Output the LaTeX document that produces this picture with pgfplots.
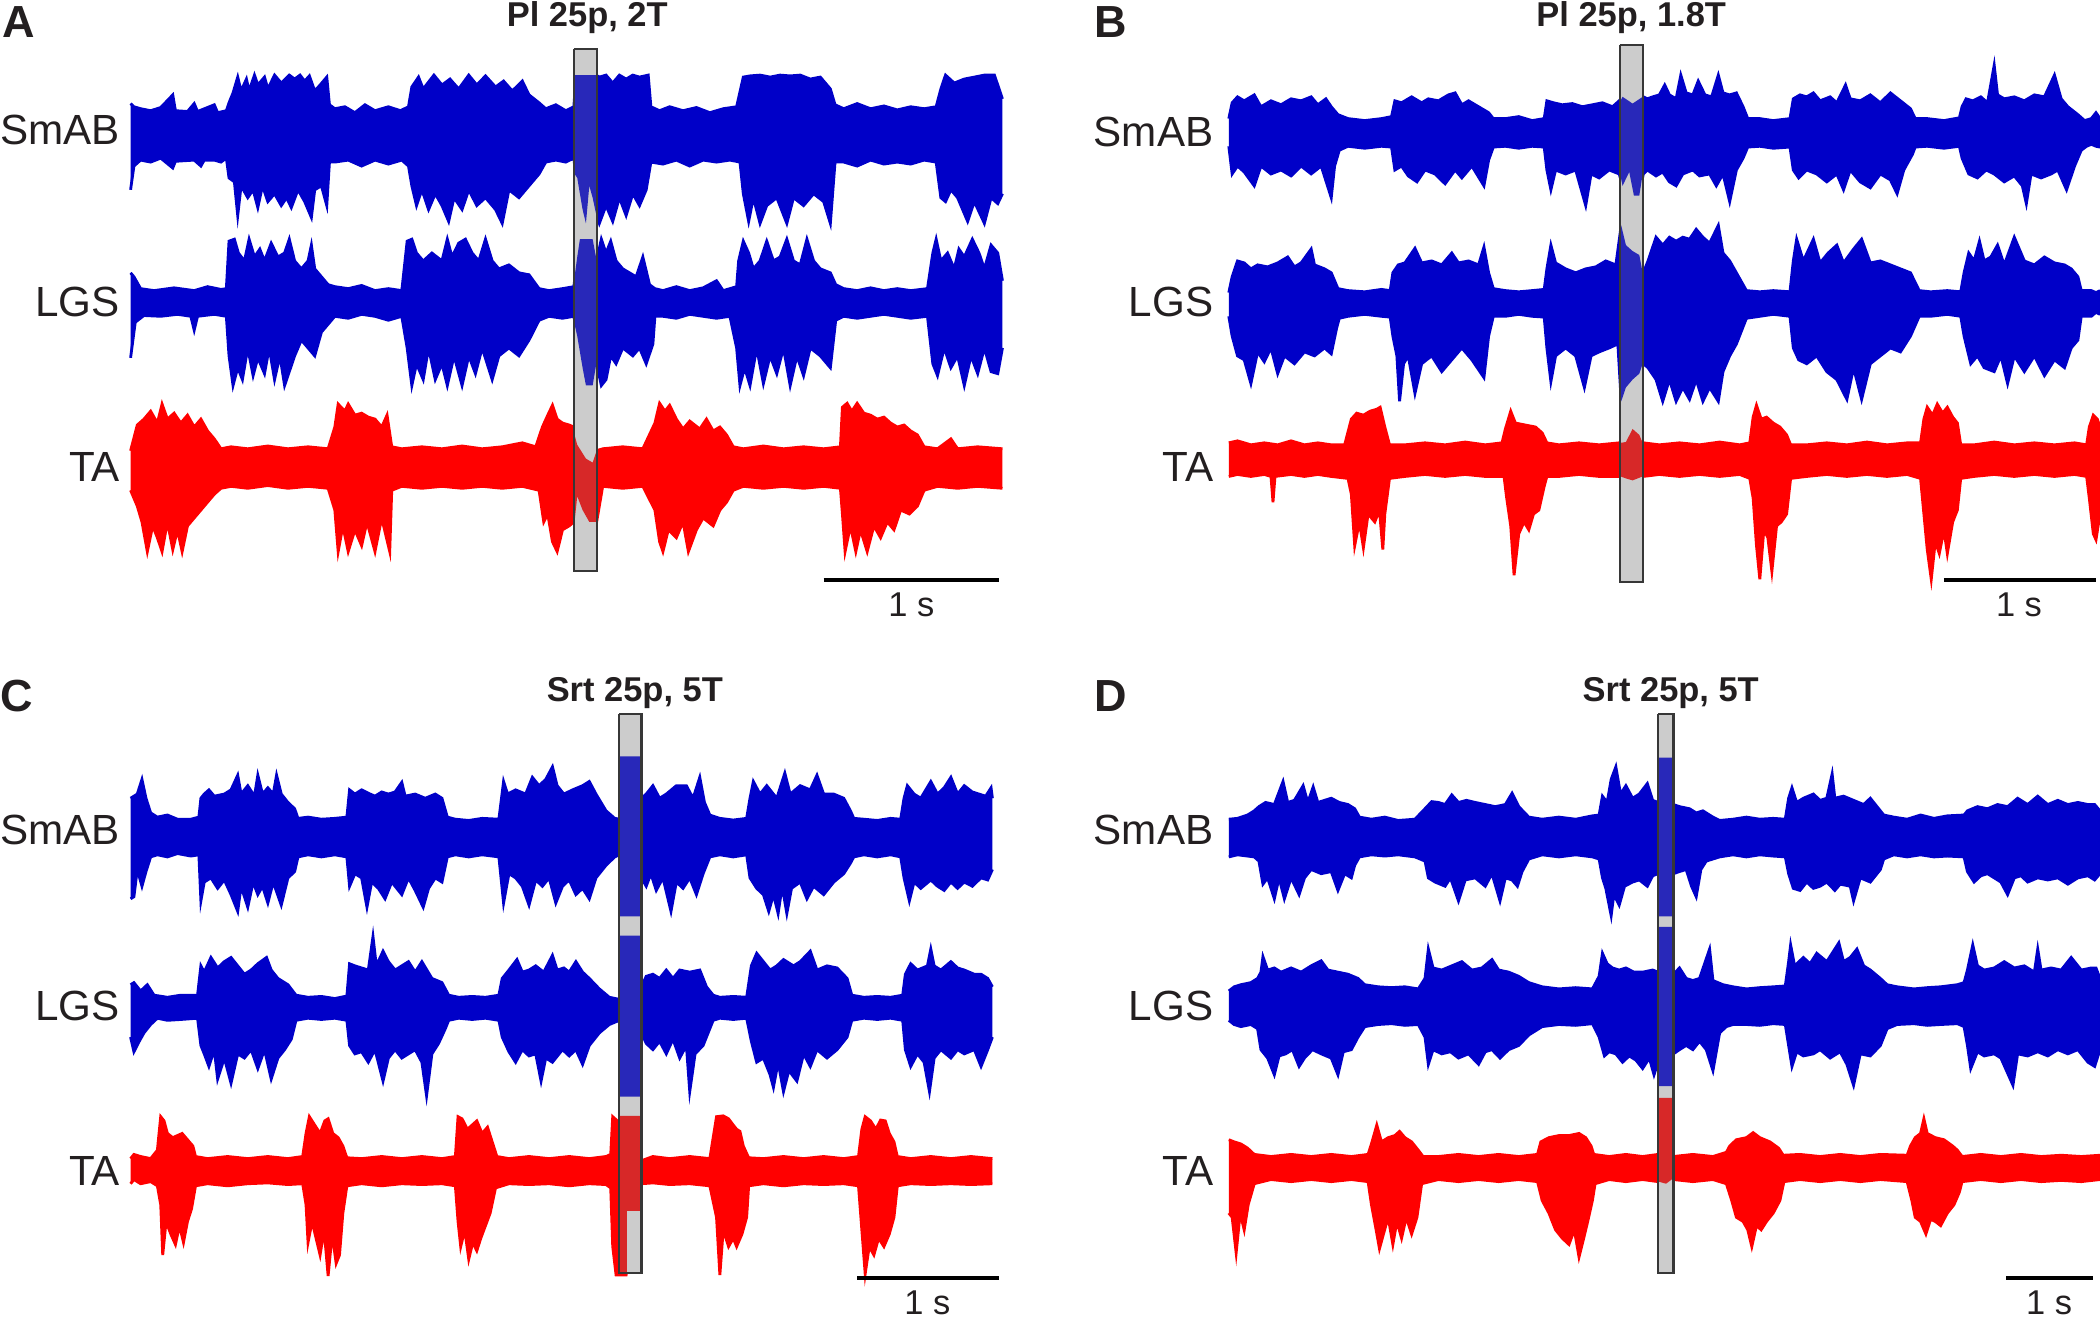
\documentclass[border=0pt]{standalone}
\usepackage{fontspec}
\setmainfont{Liberation Sans}
\usepackage{pgfplots}
\pgfplotsset{compat=1.18}
\usepgfplotslibrary{fillbetween}
\definecolor{emgblue}{RGB}{0,0,200}
\definecolor{emgred}{RGB}{255,0,0}
\definecolor{boxgray}{RGB}{204,204,204}
\definecolor{boxedge}{RGB}{55,55,55}
\definecolor{inblue}{RGB}{40,40,185}
\definecolor{inred}{RGB}{215,40,40}
\definecolor{txt}{RGB}{35,31,32}
% one EMG trace = upper and lower envelope, filled between
\newcommand{\emgtrace}[4]{%
  \addplot[name path=#1u, draw=#2, line width=0.8pt] coordinates {#3};
  \addplot[name path=#1l, draw=#2, line width=0.8pt] coordinates {#4};
  \addplot[fill=#2, draw=none] fill between[of=#1u and #1l];
}
\newcommand{\emglab}[2]{\node[anchor=east, inner sep=0pt, text=txt, font=\fontsize{12pt}{14pt}\selectfont] at (#1) {#2};}
\newcommand{\emgttl}[2]{\node[anchor=base, inner sep=0pt, text=txt, font=\fontsize{9.8pt}{11pt}\selectfont\bfseries] at (#1) {#2};}
\newcommand{\emgpnl}[2]{\node[anchor=base west, inner sep=0pt, text=txt, font=\fontsize{12.8pt}{14pt}\selectfont\bfseries] at (#1) {#2};}
\newcommand{\onesec}[1]{\node[anchor=base, inner sep=0pt, text=txt, font=\fontsize{9.8pt}{11pt}\selectfont] at (#1) {1 s};}
\pgfplotsset{panel/.style={scale only axis, hide axis, clip=false, width=105mm,
  xmin=0, xmax=1568, ymin=0, ymax=1568, y dir=reverse, anchor=north west}}
\begin{document}
\begin{tikzpicture}
% ---------------- A ----------------
\begin{axis}[panel, height=62mm, at={(0mm,131.7mm)}]
\emgtrace{as}{emgblue}{(195,262)(200,270)(210,275)(225,280)(240,272)(258,240)(262,280)(280,282)(290,262)(295,282)(320,265)(325,285)(338,280)
(342,260)(348,235)(355,195)(360,230)(368,200)(372,230)(380,190)(385,215)(395,195)(400,225)(410,190)(420,210)(432,190)(440,200)(448,190)(455,205)(462,192)(470,230)(478,215)(488,195)(492,265)
(500,275)(515,270)(530,285)(545,265)(560,280)(580,270)(598,280)(610,270)
(615,220)(625,195)(632,225)(648,190)(660,215)(672,200)(685,225)(700,190)(712,215)(725,192)(740,220)(752,205)(765,230)(780,205)(790,240)(805,260)
(815,275)(830,265)(845,280)(857,270)(860,190)(890,190)
(895,195)(905,190)(915,210)(925,190)(935,200)(945,190)(955,195)(968,190)(972,270)
(985,280)(1000,270)(1020,280)(1040,272)(1060,285)(1080,275)(1100,270)
(1110,195)(1120,192)(1135,190)(1150,195)(1165,190)(1180,192)(1195,190)(1210,200)(1225,195)(1240,225)(1247,265)
(1260,275)(1280,262)(1300,275)(1320,268)(1340,278)(1360,270)(1380,275)(1398,270)
(1405,225)(1412,190)(1425,210)(1440,200)(1455,195)(1470,190)(1485,190)(1495,240)(1497,250)}
{(195,480)(200,420)(210,405)(225,410)(240,400)(258,425)(262,408)(290,405)(300,420)(305,405)(320,405)(330,410)(338,400)
(342,450)(350,460)(355,545)(360,470)(370,500)(378,480)(385,525)(392,470)(400,510)(410,490)(420,520)(428,500)(435,525)(445,480)(455,510)(465,550)(470,480)(480,470)(488,520)(492,410)
(500,410)(520,405)(540,420)(560,405)(580,415)(600,405)(610,420)
(615,470)(622,520)(630,480)(640,530)(650,490)(660,520)(670,560)(678,500)(690,530)(700,480)(712,520)(725,500)(740,530)(750,565)(760,480)(775,500)(790,470)(805,440)
(815,410)(830,405)(845,410)(857,400)(860,450)(870,530)(875,565)(880,470)(890,540)
(895,565)(905,520)(915,560)(925,500)(935,545)(945,490)(955,520)(965,480)(972,410)
(990,415)(1010,405)(1030,420)(1050,405)(1070,410)(1090,405)(1105,410)
(1110,490)(1118,560)(1125,500)(1135,565)(1145,520)(1160,500)(1175,565)(1185,500)(1200,520)(1215,490)(1230,510)(1240,565)(1247,410)
(1260,410)(1280,420)(1300,405)(1320,415)(1340,410)(1360,415)(1380,405)(1398,410)
(1405,500)(1412,510)(1420,480)(1430,500)(1445,560)(1455,510)(1470,565)(1480,500)(1490,515)(1497,490)}
\emgtrace{al}{emgblue}{(195,690)(200,700)(210,730)(230,735)(260,728)(290,735)(310,725)(330,732)(338,730)
(342,610)(350,605)(356,640)(365,660)(372,605)(380,650)(388,630)(395,660)(405,615)(415,650)(425,640)(432,605)(440,660)(450,680)(460,660)(465,620)(470,680)(480,700)(490,720)
(500,725)(520,730)(540,722)(560,735)(580,730)(600,735)
(608,610)(615,605)(622,640)(632,660)(645,640)(660,660)(668,605)(675,650)(685,615)(695,605)(705,640)(715,660)(725,605)(735,660)(745,680)(760,670)(775,690)(790,695)(805,730)
(820,735)(840,730)(857,725)(862,650)(872,605)(885,605)(891,660)
(898,605)(905,640)(912,610)(920,660)(930,680)(940,690)(950,700)(960,650)(970,720)(978,730)
(990,735)(1010,725)(1030,735)(1050,728)(1070,710)(1080,735)(1100,725)
(1103,660)(1110,610)(1118,640)(1125,680)(1135,660)(1145,610)(1155,660)(1165,650)(1175,605)(1185,660)(1195,670)(1205,605)(1215,660)(1225,680)(1240,690)(1248,720)
(1260,730)(1280,735)(1300,728)(1320,735)(1340,730)(1360,735)(1385,730)
(1393,640)(1398,605)(1405,660)(1415,640)(1425,680)(1432,630)(1440,650)(1452,605)(1462,640)(1470,680)(1480,620)(1490,640)(1497,710)}
{(195,905)(202,815)(215,798)(240,800)(265,795)(285,800)(290,835)(295,800)(320,795)(338,800)
(342,900)(348,975)(355,930)(362,960)(370,880)(378,950)(385,905)(395,945)(402,880)(410,960)(418,900)(425,975)(432,940)(440,900)(450,860)(460,880)(470,900)(480,840)(490,820)
(500,800)(520,805)(540,795)(560,800)(580,810)(600,800)
(608,880)(615,975)(622,920)(632,960)(640,880)(650,960)(660,920)(668,975)(678,900)(690,975)(700,900)(710,945)(720,880)(735,960)(745,900)(760,880)(775,900)(790,860)(805,810)
(820,800)(840,805)(857,800)(862,850)(870,930)(875,975)(885,975)(891,920)
(898,975)(905,960)(912,900)(920,920)(930,880)(945,900)(955,880)(965,920)(975,870)(978,800)
(990,800)(1010,805)(1030,795)(1050,800)(1070,805)(1090,800)
(1100,880)(1105,975)(1112,930)(1120,975)(1130,880)(1140,970)(1150,900)(1160,945)(1170,880)(1180,975)(1190,900)(1200,950)(1210,880)(1225,900)(1240,930)(1248,810)
(1260,800)(1280,805)(1300,800)(1320,795)(1340,800)(1360,805)(1385,800)
(1393,920)(1400,950)(1410,880)(1420,930)(1430,900)(1440,975)(1450,900)(1460,945)(1470,880)(1480,940)(1490,945)(1497,880)}
\emgtrace{at}{emgred}{(195,1140)(205,1075)(215,1060)(225,1040)(235,1070)(242,1022)(250,1060)(260,1045)(270,1070)(280,1050)(290,1080)(300,1060)(310,1090)(320,1110)(330,1135)
(345,1130)(370,1135)(400,1128)(430,1135)(460,1130)(490,1135)
(500,1080)(505,1022)(515,1040)(520,1022)(530,1050)(540,1045)(550,1055)(560,1060)(570,1080)(578,1050)(585,1130)
(600,1135)(630,1130)(660,1135)(690,1128)(720,1135)(750,1130)(780,1120)(800,1130)
(810,1080)(818,1050)(825,1025)(832,1060)(840,1070)(850,1075)(857,1080)(860,1120)(875,1160)(885,1170)(891,1140)
(900,1135)(930,1130)(960,1135)
(978,1070)(985,1020)(993,1040)(1000,1025)(1010,1060)(1020,1085)(1030,1065)(1045,1085)(1055,1060)(1065,1090)(1075,1080)(1085,1100)(1095,1130)
(1110,1135)(1140,1128)(1170,1135)(1200,1130)(1230,1135)(1255,1130)
(1258,1030)(1265,1020)(1272,1040)(1280,1020)(1290,1045)(1300,1050)(1310,1060)(1320,1055)(1330,1070)(1340,1080)(1350,1075)(1360,1090)(1370,1100)(1380,1130)
(1400,1135)(1420,1110)(1430,1135)(1460,1130)(1497,1135)}
{(195,1240)(205,1280)(212,1320)(220,1395)(228,1330)(235,1360)(242,1395)(250,1320)(258,1390)(265,1340)(272,1395)(280,1330)(290,1310)(300,1290)(310,1270)(320,1250)(330,1235)
(345,1230)(370,1235)(400,1228)(430,1235)(460,1230)(490,1235)
(500,1290)(505,1395)(512,1330)(520,1395)(530,1340)(540,1380)(548,1320)(560,1395)(570,1310)(582,1395)(585,1240)
(600,1230)(630,1235)(660,1230)(690,1235)(720,1230)(750,1235)(780,1230)(805,1240)
(812,1320)(818,1300)(825,1370)(832,1395)(840,1340)(850,1330)(857,1320)(862,1250)(870,1290)(880,1320)(891,1320)
(900,1230)(930,1235)(960,1230)
(978,1290)(985,1370)(990,1395)(998,1340)(1010,1360)(1020,1320)(1028,1395)(1040,1340)(1050,1310)(1065,1330)(1075,1290)(1085,1270)(1095,1240)
(1110,1230)(1140,1235)(1170,1230)(1200,1235)(1230,1230)(1255,1235)
(1258,1300)(1262,1395)(1270,1330)(1278,1395)(1285,1340)(1295,1395)(1305,1330)(1315,1360)(1325,1320)(1335,1340)(1345,1290)(1358,1300)(1370,1280)(1380,1240)
(1400,1230)(1430,1235)(1460,1230)(1497,1235)}
\addplot[fill=boxgray, draw=none] coordinates {(857,125)(891,125)(891,1445)(857,1445)(857,125)};
\addplot[fill=inblue, draw=none] coordinates {(858,190)(890,190)(890,540)(885,500)(880,470)(875,565)(870,530)(862,450)(858,440)(858,190)};
\addplot[fill=inblue, draw=none] coordinates {(858,700)(862,650)(866,605)(885,605)(890,650)(890,925)(885,975)(875,975)(870,930)(862,850)(858,820)(858,700)};
\addplot[fill=inred, draw=none] coordinates {(858,1100)(862,1125)(875,1160)(885,1170)(890,1145)(890,1320)(880,1320)(870,1290)(862,1255)(858,1320)(858,1100)};
\addplot[draw=boxedge, line width=0.6pt] coordinates {(857,125)(891,125)(891,1445)(857,1445)(857,125)};
\addplot[draw=black, line width=0.95pt] coordinates {(1230,1467)(1492,1467)};
\emglab{180,330}{SmAB}\emglab{180,765}{LGS}\emglab{180,1180}{TA}
\emgttl{877,68}{Pl 25p, 2T}\emgpnl{3,94}{A}\onesec{1361,1560}
\end{axis}
% ---------------- B ----------------
\begin{axis}[panel, height=62mm, at={(105mm,131.7mm)}]
\emgtrace{bs}{emgblue}{(267,300)(272,260)(280,245)(290,255)(305,240)(315,270)(330,255)(345,265)(360,250)(375,255)(390,245)(400,265)(412,250)(420,270)(430,290)
(445,300)(470,305)(495,300)(510,295)
(515,255)(525,260)(540,245)(555,260)(565,250)(580,255)(595,240)(605,235)(615,265)(625,255)(640,270)(655,285)(662,300)
(680,300)(700,295)(720,305)(738,300)
(742,255)(752,260)(765,265)(780,262)(795,270)(810,265)(825,260)(840,270)(850,255)(855,245)(870,262)(886,245)
(892,250)(900,245)(910,240)(918,215)(925,240)(935,250)(942,190)(950,235)(960,240)(968,205)(978,240)(988,245)(998,190)(1005,235)(1015,240)(1025,235)(1035,270)(1042,300)
(1060,300)(1080,305)(1105,300)
(1110,250)(1120,240)(1130,245)(1140,235)(1150,255)(1165,245)(1175,260)(1188,215)(1195,250)(1210,255)(1225,240)(1240,260)(1255,235)(1270,255)(1285,275)(1292,300)
(1310,300)(1335,305)(1358,298)
(1362,270)(1368,250)(1378,255)(1390,245)(1400,260)(1410,165)(1415,240)(1425,250)(1440,245)(1455,255)(1470,240)(1485,245)(1500,190)(1510,250)(1520,270)(1535,290)(1545,305)
(1555,300)(1562,285)(1568,300)}
{(267,370)(272,440)(280,420)(290,435)(305,470)(315,420)(330,440)(345,430)(360,445)(375,420)(390,440)(405,420)(420,500)(425,420)(432,380)
(445,370)(470,375)(495,370)(510,372)
(515,430)(525,420)(535,445)(548,460)(560,430)(575,440)(590,465)(605,430)(615,450)(630,420)(648,470)(655,405)(662,372)
(680,370)(700,375)(720,370)(738,372)
(742,430)(748,480)(755,430)(770,440)(785,430)(800,520)(808,440)(820,450)(835,430)(850,440)(855,470)(865,435)(872,495)(880,495)(886,440)
(892,430)(905,445)(915,435)(925,460)(935,470)(945,440)(960,430)(970,445)(985,440)(995,470)(1005,440)(1015,510)(1025,430)(1035,400)(1042,372)
(1060,370)(1080,375)(1105,372)
(1110,430)(1118,450)(1130,430)(1145,440)(1160,460)(1175,440)(1185,480)(1195,430)(1210,460)(1225,475)(1240,440)(1255,455)(1265,490)(1275,430)(1288,390)(1292,372)
(1310,370)(1335,375)(1358,370)
(1362,400)(1372,440)(1385,450)(1398,430)(1410,440)(1425,460)(1440,445)(1452,470)(1458,515)(1465,440)(1480,450)(1495,440)(1505,430)(1518,480)(1530,420)(1540,380)(1548,370)
(1555,365)(1562,370)(1568,372)}
\emgtrace{bl}{emgblue}{(267,740)(272,700)(280,660)(290,665)(300,680)(310,670)(325,675)(340,665)(355,650)(365,675)(375,665)(390,630)(395,670)(410,680)(420,690)(430,730)
(445,735)(470,738)(495,732)(508,735)
(512,690)(520,670)(530,665)(545,628)(555,665)(570,660)(585,670)(600,640)(610,665)(625,660)(640,670)(648,625)(655,690)(662,730)
(680,735)(700,738)(720,735)(738,732)
(742,680)(748,620)(755,665)(770,680)(785,690)(800,680)(815,675)(830,660)(845,670)(853,570)(860,620)(870,635)(880,645)(886,690)
(893,660)(905,600)(915,620)(925,600)(935,610)(945,600)(955,605)(965,580)(975,600)(985,615)(998,570)(1005,640)(1015,660)(1025,690)(1040,735)
(1060,738)(1080,735)(1105,738)
(1110,660)(1115,605)(1125,660)(1140,605)(1150,665)(1162,640)(1175,620)(1185,665)(1200,630)(1212,605)(1225,665)(1240,660)(1255,670)(1270,680)(1285,690)(1298,735)
(1315,738)(1340,735)(1360,738)
(1365,690)(1372,640)(1380,660)(1388,610)(1395,660)(1405,650)(1415,620)(1425,670)(1440,600)(1455,660)(1470,670)(1485,650)(1500,665)(1515,670)(1525,680)(1535,700)(1540,735)
(1555,735)(1562,740)(1568,735)}
{(267,800)(272,850)(280,900)(290,910)(300,970)(310,890)(320,915)(330,880)(340,945)(350,900)(365,920)(380,890)(395,900)(410,880)(420,895)(428,830)(432,805)
(445,800)(470,795)(495,800)(508,802)
(512,850)(518,900)(522,1015)(528,920)(535,900)(545,995)(555,920)(570,900)(585,940)(600,910)(615,880)(630,910)(648,955)(655,850)(662,800)
(680,800)(700,795)(720,800)(738,802)
(742,880)(748,965)(755,900)(770,880)(785,900)(798,980)(808,900)(820,890)(835,880)(848,870)(853,1015)(860,980)(870,960)(880,945)(886,920)
(893,930)(905,960)(915,1015)(925,960)(935,1015)(945,980)(955,1010)(965,960)(975,1015)(985,980)(998,1015)(1005,940)(1015,900)(1025,870)(1040,805)
(1060,800)(1080,795)(1105,800)
(1110,880)(1118,910)(1130,920)(1145,900)(1160,940)(1175,960)(1190,1010)(1200,930)(1212,1010)(1225,920)(1240,900)(1255,880)(1270,890)(1285,850)(1298,800)
(1315,800)(1340,795)(1360,800)
(1365,850)(1375,920)(1385,900)(1395,930)(1410,940)(1420,900)(1430,970)(1440,900)(1455,940)(1470,900)(1485,950)(1500,910)(1515,930)(1525,880)(1535,860)(1540,800)
(1555,800)(1562,790)(1568,795)}
\emgtrace{bt}{emgred}{(267,1120)(280,1115)(300,1125)(320,1120)(340,1125)(360,1115)(380,1125)(400,1120)(420,1125)(440,1125)
(450,1060)(458,1045)(468,1050)(478,1040)(488,1035)(493,1030)(500,1080)(507,1125)
(530,1125)(560,1120)(590,1125)(620,1118)(650,1125)(675,1120)
(680,1085)(688,1040)(695,1070)(710,1075)(725,1080)(735,1095)(742,1120)
(760,1125)(790,1120)(820,1125)(850,1120)(860,1118)(870,1085)(880,1100)(886,1120)
(910,1125)(940,1120)(970,1125)(1000,1118)(1030,1125)(1045,1120)
(1050,1055)(1055,1025)(1062,1060)(1070,1055)(1080,1070)(1090,1080)(1100,1100)(1106,1125)
(1130,1125)(1160,1120)(1190,1125)(1220,1118)(1250,1125)(1280,1120)(1300,1120)
(1305,1060)(1310,1030)(1318,1050)(1325,1022)(1333,1045)(1340,1030)(1348,1055)(1355,1070)(1360,1125)
(1380,1125)(1410,1118)(1440,1125)(1470,1120)(1500,1125)(1530,1120)(1548,1125)
(1552,1080)(1558,1050)(1564,1060)(1568,1080)}
{(267,1205)(280,1200)(300,1205)(320,1200)(330,1205)(333,1270)(336,1205)(360,1200)(380,1205)(400,1200)(420,1205)(445,1210)
(450,1250)(455,1380)(462,1320)(468,1385)(475,1300)(485,1320)(492,1290)(497,1390)(500,1300)(507,1210)
(530,1205)(560,1200)(590,1205)(620,1200)(650,1205)(678,1205)
(682,1260)(688,1330)(693,1455)(700,1350)(708,1320)(715,1340)(722,1300)(730,1290)(738,1230)(742,1205)
(760,1205)(790,1200)(820,1205)(850,1205)(860,1210)(870,1215)(886,1205)
(910,1200)(940,1205)(970,1200)(1000,1205)(1030,1200)(1045,1210)
(1050,1260)(1055,1380)(1060,1465)(1066,1340)(1072,1360)(1078,1445)(1085,1330)(1092,1320)(1100,1300)(1106,1210)
(1130,1205)(1160,1200)(1190,1205)(1220,1200)(1250,1205)(1280,1200)(1300,1210)
(1305,1300)(1310,1390)(1316,1465)(1322,1370)(1328,1400)(1335,1340)(1340,1400)(1348,1320)(1355,1290)(1360,1210)
(1380,1205)(1410,1200)(1440,1205)(1470,1200)(1500,1205)(1530,1200)(1548,1205)
(1552,1260)(1558,1350)(1562,1365)(1568,1300)}
\addplot[fill=boxgray, draw=none] coordinates {(851,115)(886,115)(886,1472)(851,1472)(851,115)};
\addplot[fill=inblue, draw=none] coordinates {(852,255)(855,245)(870,262)(885,245)(885,440)(880,495)(872,495)(865,435)(855,470)(852,445)(852,255)};
\addplot[fill=inblue, draw=none] coordinates {(852,600)(853,570)(860,620)(870,635)(880,645)(885,690)(885,920)(880,945)(870,960)(860,980)(853,1015)(852,1000)(852,600)};
\addplot[fill=inred, draw=none] coordinates {(852,1120)(860,1118)(870,1085)(880,1100)(885,1120)(885,1205)(870,1215)(860,1210)(852,1205)(852,1120)};
\addplot[draw=boxedge, line width=0.6pt] coordinates {(851,115)(886,115)(886,1472)(851,1472)(851,115)};
\addplot[draw=black, line width=0.95pt] coordinates {(1335,1467)(1562,1467)};
\emglab{245,335}{SmAB}\emglab{245,765}{LGS}\emglab{245,1180}{TA}
\emgttl{868,68}{Pl 25p, 1.8T}\emgpnl{65,94}{B}\onesec{1447,1560}
\end{axis}
% ---------------- C ----------------
\begin{axis}[panel, height=65.7mm, at={(0mm,65.7mm)}]
\emgtrace{cs}{emgblue}{(195,330)(200,325)(205,320)(212,285)(218,330)(225,365)(235,375)(250,370)(265,380)(285,380)(297,375)
(300,330)(305,320)(312,310)(320,325)(335,320)(345,310)(355,275)(360,320)(370,300)(380,325)(385,275)(392,320)(400,305)(408,320)(413,275)(420,320)(430,340)(440,355)(445,378)
(460,375)(480,380)(500,378)(518,375)
(522,310)(530,320)(540,310)(550,318)(560,325)(570,315)(580,320)(590,315)(600,292)(605,325)(620,320)(635,330)(650,320)(660,330)(668,375)
(680,380)(700,383)(720,378)(745,380)
(752,290)(758,320)(770,310)(785,320)(795,280)(805,300)(815,285)(825,255)(832,300)(842,320)(855,310)(870,300)(880,290)(890,320)(905,360)(918,378)(925,380)
(958,330)(965,320)(975,300)(985,330)(995,320)(1010,300)(1025,300)(1035,330)(1045,280)(1052,340)(1060,370)
(1075,378)(1095,382)(1115,378)
(1120,330)(1125,290)(1135,320)(1145,300)(1160,330)(1172,270)(1180,320)(1195,300)(1210,310)(1220,275)(1230,320)(1245,320)(1260,330)(1270,360)(1275,378)
(1290,380)(1310,383)(1330,378)(1345,380)
(1350,330)(1355,300)(1365,320)(1375,330)(1390,290)(1400,320)(1410,305)(1420,280)(1430,320)(1440,300)(1452,315)(1462,320)(1472,325)(1480,305)(1482,330)}
{(195,570)(200,565)(205,500)(212,540)(218,505)(225,470)(235,465)(250,470)(265,462)(285,468)(297,465)
(300,575)(305,530)(315,520)(325,545)(335,525)(345,560)(355,600)(360,540)(370,590)(378,530)(385,560)(392,540)(400,580)(408,530)(420,585)(430,520)(440,505)(445,470)
(460,465)(480,470)(500,465)(518,470)
(522,540)(530,510)(540,520)(548,590)(555,530)(565,545)(575,570)(585,530)(600,560)(610,520)(620,550)(632,590)(640,545)(650,520)(660,530)(668,470)
(680,465)(700,470)(720,465)(745,470)
(752,580)(760,510)(770,520)(780,540)(790,585)(800,525)(810,540)(820,520)(830,580)(840,540)(850,525)(860,560)(870,545)(880,570)(890,520)(905,490)(918,470)(925,465)
(958,520)(965,540)(972,510)(980,550)(990,520)(1002,600)(1010,530)(1020,545)(1030,520)(1040,560)(1050,510)(1060,470)
(1075,465)(1095,470)(1115,465)
(1120,520)(1130,545)(1140,560)(1148,600)(1155,560)(1162,605)(1168,540)(1175,605)(1182,545)(1195,530)(1205,570)(1215,540)(1230,560)(1245,530)(1260,510)(1270,485)(1275,470)
(1290,465)(1310,470)(1330,465)(1345,470)
(1350,520)(1358,575)(1365,530)(1375,545)(1390,525)(1400,540)(1410,550)(1420,530)(1430,545)(1440,530)(1452,540)(1465,520)(1475,525)(1482,500)}
\emgtrace{cl}{emgblue}{(195,775)(200,770)(210,790)(220,775)(230,800)(250,805)(270,800)(295,800)
(300,730)(305,745)(315,710)(325,735)(335,720)(345,710)(355,730)(365,750)(375,740)(385,725)(398,710)(405,740)(415,760)(430,775)(442,800)
(460,805)(480,803)(500,808)(518,802)
(522,725)(530,730)(540,735)(550,740)(557,660)(562,730)(572,695)(580,720)(590,740)(600,730)(610,720)(620,745)(630,720)(645,760)(660,770)(670,800)
(685,805)(705,803)(725,805)(745,800)
(750,760)(760,740)(772,715)(780,745)(790,740)(800,730)(812,745)(825,705)(832,740)(842,735)(850,745)(860,720)(870,745)(880,760)(895,785)(910,805)(925,810)
(958,780)(965,755)(975,750)(985,760)(995,740)(1005,760)(1015,740)(1030,745)(1045,740)(1055,780)(1065,800)
(1075,805)(1095,803)(1115,805)
(1122,730)(1130,700)(1140,720)(1150,740)(1160,730)(1170,715)(1185,730)(1195,720)(1210,695)(1220,740)(1235,730)(1250,735)(1265,760)(1272,800)
(1290,805)(1310,803)(1330,805)(1348,800)
(1352,750)(1360,725)(1370,740)(1385,730)(1390,690)(1395,730)(1405,740)(1420,720)(1430,735)(1440,740)(1455,750)(1465,750)(1475,760)(1482,780)}
{(195,900)(200,935)(208,910)(215,890)(225,870)(235,855)(250,860)(270,858)(295,855)
(300,920)(305,940)(312,970)(320,930)(325,1000)(335,950)(345,1010)(355,940)(365,950)(375,930)(385,975)(395,930)(405,1000)(415,950)(425,930)(435,905)(442,860)
(460,855)(480,858)(500,855)(518,860)
(522,920)(530,940)(540,935)(550,960)(560,930)(572,1005)(580,950)(590,930)(600,950)(610,940)(620,930)(630,960)(637,1040)(645,940)(655,915)(665,880)(670,860)
(685,855)(705,858)(725,855)(745,860)
(750,900)(760,935)(770,960)(780,930)(790,945)(800,940)(808,1005)(815,950)(825,960)(840,930)(850,945)(860,930)(870,965)(880,920)(895,890)(910,870)(925,860)
(958,890)(965,915)(975,930)(985,910)(995,940)(1005,905)(1015,950)(1025,920)(1030,1030)(1038,940)(1050,920)(1060,880)(1065,860)
(1075,855)(1095,858)(1115,855)
(1122,910)(1130,960)(1140,950)(1150,990)(1155,1020)(1162,960)(1170,1030)(1178,980)(1190,1005)(1200,940)(1210,970)(1220,930)(1235,950)(1250,930)(1265,900)(1272,860)
(1290,855)(1310,858)(1330,855)(1348,860)
(1352,930)(1360,970)(1370,940)(1380,960)(1388,1030)(1395,950)(1405,930)(1420,950)(1430,930)(1440,940)(1455,930)(1465,970)(1475,930)(1482,900)}
\emgtrace{ct}{emgred}{(195,1190)(200,1180)(210,1185)(225,1190)(235,1170)
(240,1090)(245,1100)(250,1130)(258,1140)(265,1135)(272,1130)(280,1145)(288,1160)(292,1185)
(310,1190)(340,1185)(370,1190)(400,1185)(430,1190)(452,1185)
(457,1130)(462,1090)(470,1110)(478,1130)(485,1100)(490,1095)(497,1130)(505,1140)(512,1160)(518,1188)
(540,1190)(570,1185)(600,1190)(630,1185)(660,1190)(680,1185)
(684,1090)(690,1095)(698,1120)(705,1110)(712,1100)(720,1130)(728,1115)(735,1150)(742,1185)
(760,1190)(790,1185)(820,1190)(850,1185)(880,1190)(905,1185)(912,1180)
(915,1090)(922,1100)(935,1100)
(958,1195)(975,1185)(1000,1190)(1030,1185)(1060,1190)
(1070,1090)(1080,1088)(1088,1095)(1095,1110)(1100,1120)(1105,1125)(1110,1160)(1118,1188)
(1140,1190)(1170,1185)(1200,1190)(1230,1185)(1260,1190)(1282,1185)
(1287,1120)(1292,1090)(1300,1100)(1308,1120)(1315,1098)(1322,1100)(1328,1130)(1335,1150)(1340,1185)
(1360,1190)(1390,1185)(1420,1190)(1450,1185)(1482,1190)}
{(195,1250)(200,1240)(210,1250)(225,1245)(235,1255)
(240,1300)(243,1420)(248,1340)(255,1370)(262,1395)(268,1350)(274,1390)(280,1340)(286,1310)(292,1255)
(310,1250)(340,1255)(370,1250)(400,1248)(430,1252)(452,1250)
(457,1300)(460,1390)(466,1340)(472,1380)(478,1420)(484,1360)(490,1470)(496,1370)(502,1440)(507,1420)(512,1320)(518,1255)
(540,1250)(570,1255)(600,1250)(630,1252)(660,1250)(680,1255)
(684,1340)(688,1400)(694,1360)(700,1430)(706,1390)(712,1410)(718,1380)(725,1350)(732,1320)(740,1260)
(760,1250)(790,1252)(820,1250)(850,1255)(880,1250)(905,1252)(912,1260)
(915,1400)(920,1468)(935,1468)
(958,1250)(975,1248)(1000,1252)(1030,1250)(1060,1255)
(1070,1330)(1075,1468)(1080,1360)(1088,1400)(1095,1380)(1100,1400)(1108,1370)(1115,1330)(1118,1255)
(1140,1250)(1170,1255)(1200,1250)(1230,1252)(1260,1250)(1282,1255)
(1287,1360)(1292,1465)(1298,1400)(1305,1420)(1312,1380)(1320,1400)(1328,1370)(1335,1330)(1340,1255)
(1360,1250)(1390,1252)(1420,1250)(1450,1252)(1482,1250)}
\addplot[fill=boxgray, draw=none] coordinates {(925,128)(958,128)(958,1462)(925,1462)(925,128)};
\addplot[fill=inblue, draw=none] coordinates {(926,230)(957,230)(957,612)(926,612)(926,230)};
\addplot[fill=inblue, draw=none] coordinates {(926,658)(957,658)(957,1042)(926,1042)(926,658)};
\addplot[fill=inred, draw=none] coordinates {(926,1088)(957,1088)(957,1315)(926,1315)(926,1088)};
\addplot[fill=inred, draw=none] coordinates {(926,1090)(936,1090)(936,1466)(926,1466)(926,1090)};
\addplot[draw=boxedge, line width=0.6pt] coordinates {(925,128)(958,128)(958,1462)(925,1462)(925,128)};
\addplot[draw=black, line width=0.95pt] coordinates {(1280,1475)(1492,1475)};
\emglab{180,405}{SmAB}\emglab{180,825}{LGS}\emglab{180,1220}{TA}
\emgttl{948,100}{Srt 25p, 5T}\emgpnl{0,123}{C}\onesec{1385,1562}
\end{axis}
% ---------------- D ----------------
\begin{axis}[panel, height=65.7mm, at={(105mm,65.7mm)}]
\emgtrace{ds}{emgblue}{(267,380)(280,378)(295,370)(305,360)
(312,350)(322,340)(335,345)(348,290)(355,340)(365,335)(378,300)(385,340)(393,303)(400,340)(410,335)(420,330)(432,340)(445,345)(455,355)(462,375)
(480,380)(500,375)(520,383)(545,380)
(560,355)(570,338)(580,340)(590,345)(600,322)(610,340)(622,335)(635,340)(650,345)(665,350)(680,345)(690,318)(700,350)(715,375)
(735,380)(760,375)(785,380)(810,372)(820,370)
(825,325)(832,340)(838,285)(845,255)(852,320)(860,300)(870,330)(880,320)(892,295)(900,335)(908,340)
(931,345)(940,350)(955,355)(965,365)(975,360)(990,375)(1000,383)
(1020,380)(1040,375)(1060,380)(1080,378)(1098,380)
(1103,330)(1108,305)(1115,340)(1125,330)(1140,320)(1150,335)(1160,330)(1168,272)(1172,330)(1185,325)(1200,335)(1215,345)(1225,330)(1235,350)(1245,370)
(1260,375)(1280,380)(1300,370)(1320,378)(1340,372)(1365,370)
(1370,360)(1385,350)(1400,355)(1415,345)(1430,350)(1445,330)(1460,345)(1475,325)(1490,345)(1505,335)(1520,345)(1535,340)(1550,345)(1560,345)(1568,360)}
{(267,470)(280,465)(295,468)(305,470)
(312,480)(318,535)(325,520)(335,570)(342,520)(350,570)(360,520)(372,560)(380,520)(390,500)(405,510)(420,505)(430,550)(440,510)(450,520)(455,490)(462,470)
(480,465)(500,468)(520,465)(545,470)
(560,480)(565,520)(575,530)(590,540)(598,520)(610,575)(620,525)(635,520)(650,540)(660,510)(672,575)(680,520)(690,525)(698,540)(705,505)(715,475)
(735,465)(760,470)(785,465)(810,470)(820,475)
(825,520)(830,545)(838,610)(842,560)(850,585)(858,540)(870,530)(880,525)(892,540)(900,515)(908,510)
(931,510)(940,505)(950,500)(958,540)(965,565)(972,500)(980,480)(990,475)(1000,470)
(1020,465)(1040,470)(1060,465)(1080,468)(1098,470)
(1103,510)(1110,545)(1120,550)(1130,530)(1140,545)(1150,540)(1160,530)(1172,550)(1180,535)(1195,540)(1200,575)(1210,520)(1225,530)(1240,500)(1245,475)
(1260,465)(1280,470)(1300,465)(1320,470)(1340,468)(1365,470)
(1370,505)(1380,530)(1390,515)(1400,510)(1410,520)(1420,530)(1430,560)(1440,520)(1450,515)(1460,530)(1475,520)(1490,525)(1505,520)(1520,535)(1535,520)(1550,515)(1560,525)(1568,510)}
\emgtrace{dl}{emgblue}{(267,790)(275,780)(285,775)(300,770)(310,760)
(315,745)(318,708)(325,740)(335,735)(345,745)(360,735)(375,745)(390,730)(405,718)(415,740)(430,745)(445,750)(460,760)(470,775)
(490,780)(510,782)(530,780)(550,785)
(560,760)(565,690)(572,735)(585,740)(600,730)(615,720)(630,740)(645,735)(660,715)(670,740)(685,745)(700,755)(715,770)(735,780)
(760,785)(785,782)(810,785)
(820,755)(825,700)(832,725)(840,735)(850,740)(860,735)(872,745)(885,745)(900,740)(908,745)
(931,750)(940,735)(950,760)(960,765)(970,760)(985,690)(990,765)(1005,775)(1020,780)
(1040,785)(1060,782)(1080,780)(1098,778)
(1103,720)(1106,680)(1112,730)(1125,710)(1135,725)(1145,700)(1160,720)(1178,675)(1185,720)(1195,710)(1205,690)(1215,730)(1225,740)(1240,760)(1250,775)
(1265,780)(1290,785)(1310,782)(1330,780)(1355,775)(1365,770)
(1370,740)(1378,680)(1385,730)(1395,740)(1410,735)(1425,720)(1440,735)(1455,730)(1470,745)(1475,690)(1480,740)(1495,735)(1510,740)(1525,710)(1540,740)(1555,735)(1562,735)(1568,760)}
{(267,860)(275,870)(285,875)(300,870)(310,880)
(315,930)(325,950)(335,990)(342,945)(352,940)(362,930)(372,970)(380,950)(392,930)(405,940)(420,950)(430,990)(438,935)(450,930)(460,900)(470,875)
(490,870)(510,868)(530,872)(550,870)
(560,900)(565,965)(572,930)(585,940)(598,935)(610,950)(625,940)(640,965)(650,935)(660,930)(672,950)(685,930)(700,920)(715,895)(735,875)
(760,870)(785,872)(810,868)
(820,900)(828,945)(835,935)(845,940)(855,960)(865,945)(875,955)(885,975)(895,950)(902,990)(908,960)
(931,940)(940,930)(950,920)(960,930)(970,910)(980,930)(990,980)(1000,890)(1010,875)(1020,870)
(1040,870)(1060,872)(1080,868)(1098,870)
(1103,920)(1108,970)(1115,935)(1125,945)(1140,940)(1150,930)(1165,950)(1180,935)(1190,965)(1200,1015)(1210,940)(1225,945)(1240,920)(1250,880)
(1265,870)(1290,868)(1310,872)(1330,870)(1355,868)(1365,875)
(1370,920)(1375,975)(1385,935)(1395,945)(1410,940)(1420,950)(1438,1015)(1445,940)(1460,945)(1475,935)(1490,945)(1505,930)(1520,940)(1535,930)(1550,960)(1560,970)(1568,930)}
\emgtrace{dt}{emgred}{(267,1145)(275,1150)(285,1155)(295,1165)(305,1180)
(330,1185)(360,1180)(390,1185)(420,1180)(450,1185)(475,1180)
(480,1155)(488,1110)(495,1150)(505,1140)(515,1135)(522,1125)(530,1140)(540,1150)(550,1170)(557,1185)
(580,1185)(610,1180)(640,1185)(670,1180)(700,1185)(728,1180)
(733,1150)(745,1140)(760,1135)(775,1135)(790,1130)(800,1140)(808,1160)(812,1180)
(835,1185)(860,1180)(885,1185)(908,1180)
(931,1185)(960,1180)(990,1185)(1010,1175)
(1015,1160)(1025,1145)(1040,1140)(1050,1128)(1060,1140)(1075,1150)(1088,1165)(1095,1182)
(1120,1180)(1150,1185)(1180,1180)(1210,1185)(1240,1180)(1280,1182)
(1285,1160)(1292,1140)(1300,1130)(1305,1095)(1310,1130)(1322,1140)(1335,1145)(1348,1160)(1355,1170)(1362,1185)
(1390,1180)(1420,1185)(1450,1180)(1480,1185)(1510,1182)(1540,1185)(1568,1182)}
{(267,1320)(272,1330)(278,1415)(284,1320)(290,1360)(296,1300)(305,1250)
(330,1240)(360,1245)(390,1240)(420,1245)(450,1240)(475,1245)
(480,1300)(487,1360)(492,1405)(498,1370)(505,1330)(512,1395)(518,1340)(525,1380)(532,1330)(540,1370)(548,1330)(555,1250)
(580,1240)(610,1245)(640,1240)(670,1245)(700,1240)(728,1245)
(735,1290)(745,1320)(755,1360)(765,1380)(775,1395)(783,1360)(790,1425)(797,1380)(803,1340)(810,1290)(814,1250)
(835,1240)(860,1245)(885,1240)(908,1245)
(931,1240)(960,1245)(990,1240)(1010,1250)
(1018,1290)(1025,1330)(1035,1340)(1042,1360)(1048,1400)(1055,1350)(1062,1360)(1070,1340)(1080,1320)(1090,1290)(1096,1245)
(1120,1240)(1150,1245)(1180,1240)(1210,1245)(1240,1240)(1280,1245)
(1287,1290)(1292,1330)(1300,1340)(1308,1370)(1315,1335)(1322,1340)(1330,1350)(1340,1320)(1350,1300)(1358,1270)(1362,1245)
(1390,1240)(1420,1245)(1450,1240)(1480,1245)(1510,1242)(1540,1245)(1568,1240)}
\addplot[fill=boxgray, draw=none] coordinates {(908,128)(931,128)(931,1462)(908,1462)(908,128)};
\addplot[fill=inblue, draw=none] coordinates {(909,233)(930,233)(930,612)(909,612)(909,233)};
\addplot[fill=inblue, draw=none] coordinates {(909,637)(930,637)(930,1017)(909,1017)(909,637)};
\addplot[fill=inred, draw=none] coordinates {(909,1045)(930,1045)(930,1238)(920,1250)(909,1245)(909,1045)};
\addplot[draw=boxedge, line width=0.6pt] coordinates {(908,128)(931,128)(931,1462)(908,1462)(908,128)};
\addplot[draw=black, line width=0.95pt] coordinates {(1428,1475)(1557,1475)};
\emglab{245,405}{SmAB}\emglab{245,825}{LGS}\emglab{245,1220}{TA}
\emgttl{927,100}{Srt 25p, 5T}\emgpnl{65,123}{D}\onesec{1492,1562}
\end{axis}
\pgfresetboundingbox
\path[use as bounding box] (0,0) rectangle (210mm,131.7mm);
\end{tikzpicture}
\end{document}
